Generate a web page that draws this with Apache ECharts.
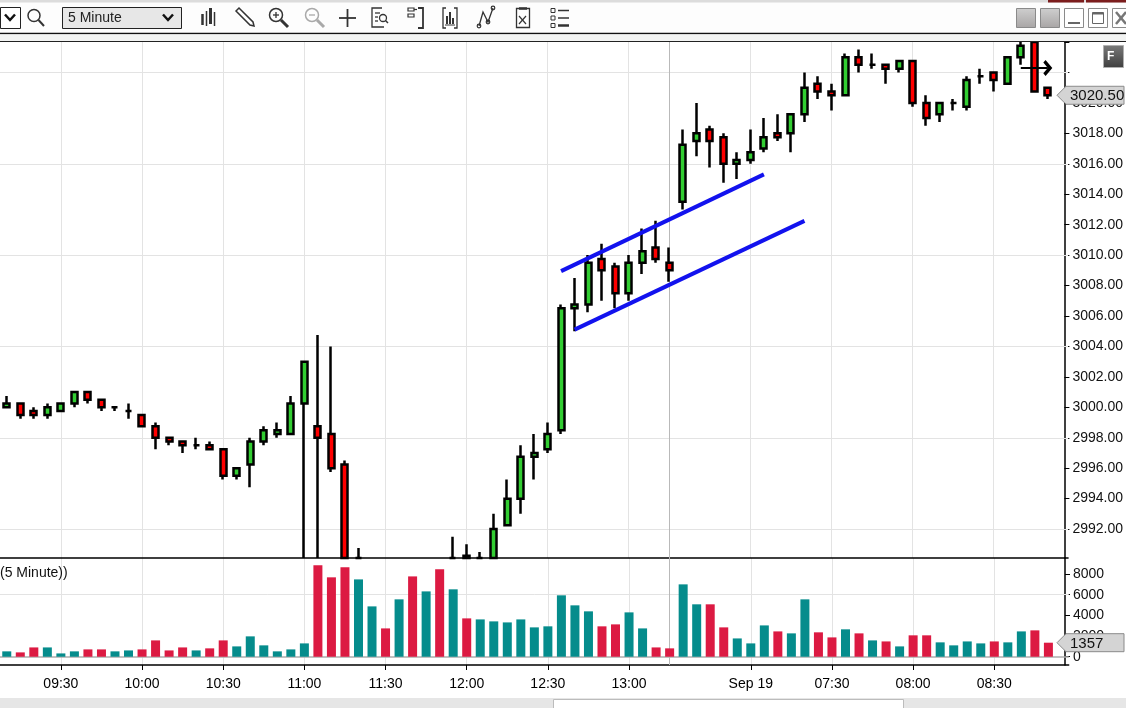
<!DOCTYPE html>
<html>
<head>
<meta charset="utf-8">
<title>5 Minute</title>
<script src="https://cdn.jsdelivr.net/npm/echarts@6/dist/echarts.min.js"></script>
<style>
html, body { margin: 0; padding: 0; background: #fff; }
#main { width: 1126px; height: 708px; }
</style>
</head>
<body>
<div id="main"></div>
<script type="text/javascript">
// 5 minute bars, Sep 18 (09:10 - 13:15) then Sep 19 (06:35 - ), last slot empty
var times = [
  '09:10','09:15','09:20','09:25','09:30','09:35','09:40','09:45','09:50','09:55',
  '10:00','10:05','10:10','10:15','10:20','10:25','10:30','10:35','10:40','10:45','10:50','10:55',
  '11:00','11:05','11:10','11:15','11:20','11:25','11:30','11:35','11:40','11:45','11:50','11:55',
  '12:00','12:05','12:10','12:15','12:20','12:25','12:30','12:35','12:40','12:45','12:50','12:55',
  '13:00','13:05','13:10','13:15',
  '06:35','06:40','06:45','06:50','06:55',
  '07:00','07:05','07:10','07:15','07:20','07:25','07:30','07:35','07:40','07:45','07:50','07:55',
  '08:00','08:05','08:10','08:15','08:20','08:25','08:30','08:35','08:40','08:45','08:50','08:55'
];
var dateLabels = { '07:00': 'Sep 19' };
var sessionBreak = 49;

// open, high, low, close
var ohlc = [
  [3000.00, 3000.75, 3000.00, 3000.25],
  [3000.25, 3000.25, 2999.25, 2999.50],
  [2999.75, 3000.00, 2999.25, 2999.50],
  [2999.50, 3000.25, 2999.25, 3000.00],
  [2999.75, 3000.25, 2999.75, 3000.25],
  [3000.25, 3001.00, 3000.00, 3001.00],
  [3001.00, 3001.00, 3000.25, 3000.50],
  [3000.50, 3000.50, 2999.75, 3000.00],
  [3000.00, 3000.00, 2999.75, 3000.00],
  [2999.75, 3000.25, 2999.25, 2999.75],
  [2999.50, 2999.50, 2998.75, 2998.75],
  [2998.75, 2999.00, 2997.25, 2998.00],
  [2998.00, 2998.00, 2997.50, 2997.75],
  [2997.75, 2997.75, 2997.00, 2997.50],
  [2997.50, 2998.00, 2997.25, 2997.50],
  [2997.50, 2997.75, 2997.25, 2997.25],
  [2997.25, 2997.25, 2995.25, 2995.50],
  [2995.50, 2996.00, 2995.25, 2996.00],
  [2996.25, 2998.00, 2994.75, 2997.75],
  [2997.75, 2998.75, 2997.50, 2998.50],
  [2998.25, 2999.00, 2998.00, 2998.50],
  [2998.25, 3000.75, 2998.25, 3000.25],
  [3000.25, 3003.00, 2981.00, 3003.00],
  [2998.75, 3004.75, 2982.50, 2998.00],
  [2998.25, 3004.00, 2995.75, 2996.00],
  [2996.25, 2996.50, 2988.00, 2988.50],
  [2988.50, 2990.75, 2987.75, 2989.75],
  [2988.25, 2989.75, 2987.00, 2989.50],
  [2989.50, 2989.75, 2988.00, 2988.50],
  [2988.50, 2989.50, 2986.50, 2989.25],
  [2989.25, 2989.50, 2986.25, 2987.00],
  [2987.00, 2989.25, 2985.75, 2988.75],
  [2988.75, 2989.75, 2986.50, 2987.25],
  [2987.25, 2991.50, 2986.75, 2989.00],
  [2990.25, 2991.00, 2989.00, 2989.50],
  [2989.50, 2990.50, 2989.25, 2990.00],
  [2989.75, 2993.00, 2989.50, 2992.00],
  [2992.25, 2995.25, 2992.25, 2994.00],
  [2994.00, 2997.50, 2993.00, 2996.75],
  [2996.75, 2998.25, 2995.25, 2997.00],
  [2997.25, 2999.00, 2997.00, 2998.25],
  [2998.50, 3006.75, 2998.25, 3006.50],
  [3006.50, 3008.50, 3005.00, 3006.75],
  [3006.75, 3010.00, 3006.25, 3009.50],
  [3009.75, 3010.75, 3007.00, 3009.00],
  [3009.25, 3009.50, 3006.50, 3007.50],
  [3007.50, 3010.00, 3007.00, 3009.50],
  [3009.50, 3011.75, 3008.75, 3010.25],
  [3010.50, 3012.25, 3009.50, 3009.75],
  [3009.50, 3010.50, 3008.25, 3009.00],
  [3013.50, 3018.25, 3013.00, 3017.25],
  [3017.50, 3020.00, 3016.50, 3018.00],
  [3018.25, 3018.50, 3015.75, 3017.50],
  [3017.75, 3018.00, 3014.75, 3016.00],
  [3016.00, 3016.75, 3015.00, 3016.25],
  [3016.25, 3018.25, 3016.00, 3016.75],
  [3017.00, 3019.00, 3016.75, 3017.75],
  [3018.00, 3019.25, 3017.50, 3017.75],
  [3018.00, 3019.25, 3016.75, 3019.25],
  [3019.25, 3022.00, 3018.75, 3021.00],
  [3021.25, 3021.75, 3020.25, 3020.75],
  [3020.75, 3021.25, 3019.50, 3020.50],
  [3020.50, 3023.25, 3020.50, 3023.00],
  [3023.00, 3023.50, 3022.00, 3022.50],
  [3022.50, 3023.25, 3022.25, 3022.50],
  [3022.50, 3022.50, 3021.25, 3022.25],
  [3022.25, 3022.75, 3022.00, 3022.75],
  [3022.75, 3022.75, 3019.75, 3020.00],
  [3020.00, 3020.50, 3018.50, 3019.00],
  [3019.25, 3020.00, 3018.75, 3020.00],
  [3020.00, 3020.25, 3019.50, 3020.00],
  [3019.75, 3021.75, 3019.50, 3021.50],
  [3021.75, 3022.25, 3021.25, 3021.75],
  [3022.00, 3022.00, 3020.75, 3021.50],
  [3021.25, 3023.00, 3021.25, 3023.00],
  [3023.00, 3024.25, 3022.50, 3023.75],
  [3024.00, 3024.50, 3020.75, 3020.75],
  [3021.00, 3021.00, 3020.25, 3020.50]
];

var volume = [
  520, 420, 900, 900, 320, 520, 710, 710, 520, 610,
  710, 1580, 610, 900, 610, 810, 1580, 1000, 1970, 1100,
  520, 710, 1290, 8840, 7680, 8650, 7480, 4870, 2740, 5550,
  7770, 6320, 8450, 6520, 3710, 3610, 3420, 3320, 3610, 2840,
  2940, 5940, 4970, 4390, 2940, 3130, 4290, 2740, 900, 810,
  7000, 5070, 5070, 2840, 1770, 1290, 3030, 2450, 2260, 5550,
  2360, 1870, 2650, 2260, 1580, 1480, 1000, 2070, 2070, 1390,
  1100, 1480, 1290, 1480, 1390, 2450, 2550, 1357
];

// drawn channel (bar index, price)
var channels = [
  [[41, 3008.95], [56, 3015.3]],
  [[42, 3005.1], [59, 3012.25]]
];
var arrowMark = [[75, 3022.3], [77, 3022.3]];

var priceMin = 2990.1, priceMax = 3024.0;
var priceTicks = [2992, 2994, 2996, 2998, 3000, 3002, 3004, 3006, 3008, 3010, 3012, 3014, 3016, 3018, 3020, 3022, 3024];
var priceLabels = [2992, 2994, 2996, 2998, 3000, 3002, 3004, 3006, 3008, 3010, 3012, 3014, 3016, 3018, 3020];
var priceGrid = [2992, 2998, 3004, 3010, 3016, 3022];
var volTicks = [0, 2000, 4000, 6000, 8000];

var upColor = '#32cd32', downColor = '#ff0000';
var upVol = '#058c8c', downVol = '#dc1a42';
var font = "'Liberation Sans', Arial, sans-serif";

function isLabelTime(i, v) {
  var m = v.slice(3);
  return m === '00' || m === '30';
}
// the candlestick series does not cut boxes that cross the pane edge, so do it here;
// bars lying wholly below the pane are left out
function clipPrice(v) {
  return Math.max(priceMin, Math.min(priceMax, v));
}
function candleItem(b) {
  if (b[1] < priceMin || b[2] > priceMax) return '-';
  return [clipPrice(b[0]), clipPrice(b[3]), clipPrice(b[2]), clipPrice(b[1])];
}

var myChart = echarts.init(document.getElementById('main'));

var axisX = function (grid, withLabels) {
  return {
    type: 'category',
    gridIndex: grid,
    data: times,
    boundaryGap: true,
    axisLine: { show: true, onZero: false, lineStyle: { color: '#000', width: 1.5 } },
    axisTick: { show: withLabels, alignWithLabel: true, interval: isLabelTime, length: 5, lineStyle: { color: '#000' } },
    axisLabel: {
      show: withLabels, interval: isLabelTime, margin: 12,
      color: '#000', fontSize: 14, fontFamily: font,
      formatter: function (v) { return dateLabels[v] || v; }
    },
    splitLine: { show: true, alignWithLabel: true, interval: isLabelTime, lineStyle: { color: '#e3e3e3', width: 1 } }
  };
};

myChart.setOption({
  animation: false,
  backgroundColor: '#fff',
  grid: [
    { left: -2.5, right: 57.3, top: 42, height: 516 },
    { left: -2.5, right: 57.3, top: 558, height: 107 }
  ],
  xAxis: [axisX(0, false), axisX(1, true)],
  yAxis: [{
    type: 'value', gridIndex: 0, position: 'right', offset: -3.7,
    min: priceMin, max: priceMax, scale: true,
    axisLine: { show: true, lineStyle: { color: '#000', width: 1.5 } },
    axisTick: { show: true, length: 5, customValues: priceTicks, lineStyle: { color: '#000' } },
    axisLabel: {
      customValues: priceLabels, margin: 8, color: '#111', fontSize: 14, fontFamily: font,
      formatter: function (v) { return v.toFixed(2); }
    },
    splitLine: { show: false }
  }, {
    type: 'value', gridIndex: 1, position: 'right', offset: -3.7,
    min: -800, max: 9550,
    axisLine: { show: true, lineStyle: { color: '#000', width: 1.5 } },
    axisTick: { show: true, length: 5, customValues: volTicks, lineStyle: { color: '#000' } },
    axisLabel: {
      customValues: volTicks, margin: 8, color: '#111', fontSize: 14, fontFamily: font,
      formatter: function (v) { return String(v); }
    },
    splitLine: { show: false }
  }],
  series: [{
    // price grid lines, kept under the candles
    type: 'line', xAxisIndex: 0, yAxisIndex: 0, data: [], silent: true,
    markLine: {
      silent: true, z: 1, symbol: 'none', label: { show: false },
      lineStyle: { color: '#e3e3e3', width: 1, type: 'solid' },
      data: priceGrid.map(function (v) { return { yAxis: v }; }).concat([
        { xAxis: sessionBreak, lineStyle: { color: '#b9b9b9', width: 1, type: 'solid' } }
      ])
    }
  }, {
    name: 'Price',
    type: 'candlestick',
    xAxisIndex: 0, yAxisIndex: 0,
    barWidth: 6.5,
    clip: true,
    data: ohlc.map(candleItem),
    itemStyle: {
      color: upColor, color0: downColor,
      borderColor: '#000', borderColor0: '#000', borderColorDoji: '#000',
      borderWidth: 2.5
    },
    markLine: {
      silent: true, symbol: 'none', label: { show: false },
      lineStyle: { color: '#1212ee', width: 4, type: 'solid' },
      data: channels.map(function (c) {
        return [{ coord: c[0] }, { coord: c[1] }];
      }).concat([[
        { coord: arrowMark[0], symbol: 'none' },
        { coord: arrowMark[1], symbol: 'path://M0,9 L9,0 L18,9 L15,12 L9,6 L3,12 Z', symbolSize: [16, 9],
          lineStyle: { color: '#000', width: 2 } }
      ]])
    }
  }, {
    name: 'Volume',
    type: 'bar',
    xAxisIndex: 1, yAxisIndex: 1,
    barWidth: 9,
    data: volume,
    itemStyle: {
      color: function (p) {
        var b = ohlc[p.dataIndex];
        return b[3] >= b[0] ? upVol : downVol;
      }
    },
    markLine: {
      silent: true, z: 1, symbol: 'none', label: { show: false },
      data: [
        { yAxis: 0, lineStyle: { color: '#acacac', width: 1.5, type: 'solid' } },
        { yAxis: 6000, lineStyle: { color: '#e3e3e3', width: 1, type: 'solid' } },
        { xAxis: sessionBreak, lineStyle: { color: '#b9b9b9', width: 1, type: 'solid' } }
      ]
    }
  }]
});

// window chrome, toolbar and price tags
function ln(x1, y1, x2, y2, c, w) {
  return { type: 'line', shape: { x1: x1, y1: y1, x2: x2, y2: y2 }, style: { stroke: c, lineWidth: w || 1 }, silent: true, z: 100 };
}
function box(x, y, w, h, fill, stroke, lw) {
  return { type: 'rect', shape: { x: x, y: y, width: w, height: h }, style: { fill: fill, stroke: stroke || null, lineWidth: lw || 1 }, silent: true, z: 100 };
}
function ring(cx, cy, r, c, w) {
  return { type: 'circle', shape: { cx: cx, cy: cy, r: r }, style: { fill: null, stroke: c, lineWidth: w || 1.5 }, silent: true, z: 100 };
}
function poly(pts, c, w) {
  return { type: 'polyline', shape: { points: pts }, style: { stroke: c, lineWidth: w || 1.5, fill: null }, silent: true, z: 100 };
}
function txt(x, y, s, size, color, extra) {
  var st = { text: s, x: x, y: y, fill: color || '#000', font: (size || 14) + 'px ' + font, textVerticalAlign: 'middle' };
  if (extra) { for (var k in extra) st[k] = extra[k]; }
  return { type: 'text', style: st, silent: true, z: 110 };
}
function tag(y, label) {
  return [
    { type: 'polygon', shape: { points: [[1057, y], [1066, y - 9], [1124, y - 9], [1124, y + 9], [1066, y + 9]] },
      style: { fill: '#d4d4d4', stroke: '#8a8a8a', lineWidth: 1 }, silent: true, z: 105 },
    txt(1070, y + 1, label, 15, '#111')
  ];
}

var grey = { type: 'linear', x: 0, y: 0, x2: 0, y2: 1, colorStops: [{ offset: 0, color: '#cfcfcf' }, { offset: 1, color: '#a8a5a5' }] };
var dark = { type: 'linear', x: 0, y: 0, x2: 0, y2: 1, colorStops: [{ offset: 0, color: '#7a7a7a' }, { offset: 1, color: '#3e3e3e' }] };

var ic = '#333';
var g = [
  box(0, 0, 1126, 34, '#fdfdfd'),
  box(0, 0, 1126, 2.5, '#dcdcdc'),
  box(1048, 0, 36, 2.5, '#7b1c1c'),
  box(1086, 0, 40, 2.5, '#7b1c1c'),
  ln(0, 33.5, 1126, 33.5, '#111', 1.5),
  box(0, 34.5, 1126, 6.5, '#f2f3f2'),
  ln(0, 41.5, 1126, 41.5, '#222', 1.2),

  // interval selector boxes
  box(0.5, 7.5, 20, 21, '#fff', '#222', 1),
  poly([[5, 14.5], [10, 20], [15, 14.5]], '#111', 2.5),
  ring(34, 15.5, 6, ic, 1.5), ln(38.5, 20, 44, 26, ic, 2),
  box(62.5, 7.5, 119, 21, '#e7e7e7', '#222', 1),
  txt(68, 18.5, '5 Minute', 14, '#222'),
  poly([[163, 14.5], [168, 20], [173, 14.5]], '#111', 2.5),

  // tool icons
  ln(202.5, 14, 202.5, 25, ic, 2.5), ln(206.5, 11, 206.5, 26, ic, 1.5),
  ln(210.5, 8, 210.5, 24, ic, 3), ln(214.5, 12, 214.5, 26, ic, 1.5),
  { type: 'polygon', shape: { points: [[236, 11], [239, 8], [253, 22], [254, 26], [250, 25]] }, style: { fill: '#fff', stroke: ic, lineWidth: 1.5 }, silent: true, z: 100 },
  ring(276, 15, 6.5, ic, 1.5), ln(273, 15, 279, 15, ic, 1.3), ln(276, 12, 276, 18, ic, 1.3), ln(281, 20, 288, 27, ic, 3),
  ring(312, 15, 6.5, '#a9a9a9', 1.5), ln(309, 15, 315, 15, '#a9a9a9', 1.3), ln(317, 20, 324, 27, '#a9a9a9', 3),
  ln(347.5, 9, 347.5, 27, ic, 1.8), ln(339, 18, 356, 18, ic, 1.8),
  poly([[382, 8], [372, 8], [372, 27], [384, 27]], ic, 1.3), ln(375, 13, 380, 13, ic, 1.3), ln(375, 17, 378, 17, ic, 1.3), ln(375, 21, 378, 21, ic, 1.3),
  ring(383, 18, 3.5, ic, 1.3), ln(385.5, 20.5, 388, 23, ic, 1.5),
  box(408, 8, 6, 3, null, ic, 1.2), box(408, 14, 6, 3, null, ic, 1.2), ln(414, 9.5, 417, 9.5, ic, 1.2),
  poly([[418, 8], [423, 8], [423, 28], [418, 28]], ic, 1.8),
  poly([[446, 8], [443, 8], [443, 28], [446, 28]], ic, 1.3), poly([[454, 8], [457, 8], [457, 28], [454, 28]], ic, 1.3),
  ln(447, 16, 447, 24, ic, 2), ln(450, 12, 450, 24, ic, 2), ln(453, 18, 453, 24, ic, 2), ln(445, 25, 455, 25, ic, 1),
  poly([[479, 26], [483, 12], [488, 22], [493, 8]], ic, 1.3), ring(479, 26, 1.8, ic, 1.2), ring(488, 22, 1.8, ic, 1.2), ring(493, 8, 1.8, ic, 1.2),
  box(516.5, 8.5, 13, 19, null, ic, 1.3), ln(519, 8.5, 527, 8.5, ic, 2.5), ln(519, 16, 526, 24, ic, 1.2), ln(526, 16, 519, 24, ic, 1.2),
  box(551, 8.5, 4, 4, null, ic, 1), box(551, 16, 4, 4, null, ic, 1), box(551, 23.5, 4, 4, null, ic, 1),
  ln(558, 10.5, 569, 10.5, ic, 1.5), ln(558, 18, 569, 18, ic, 1.5), ln(558, 25.5, 569, 25.5, ic, 2.5),

  // window buttons
  box(1016.5, 8.5, 19, 19, grey, '#8a8a8a', 1),
  box(1040.5, 8.5, 19, 19, grey, '#8a8a8a', 1),
  box(1064.5, 8.5, 19, 19, '#fff', '#8a8a8a', 1), ln(1068, 23, 1080, 23, '#666', 2),
  box(1088.5, 8.5, 19, 19, '#fff', '#8a8a8a', 1), box(1092.5, 12.5, 11, 11, null, '#666', 1), ln(1092.5, 13.5, 1103.5, 13.5, '#666', 2),
  box(1112.5, 8.5, 19, 19, '#fff', '#8a8a8a', 1), ln(1116, 12, 1126, 24, '#777', 2.5), ln(1126, 12, 1116, 24, '#777', 2.5),

  // F button and pane title
  box(1103.5, 45.5, 20, 22, dark, '#b0b0b0', 1),
  txt(1107, 57, 'F', 17, '#fff', { fontWeight: 'bold' }),
  txt(0, 573, '(5 Minute))', 14, '#111'),

  // scroll bar
  box(0, 698, 1126, 10, '#e6e6e6'),
  box(553.5, 699.5, 350, 9, '#fff', '#bcbcbc', 1)
];

var last = ohlc.length - 1;
var yPrice = myChart.convertToPixel({ yAxisIndex: 0 }, ohlc[last][3]);
var yVol = myChart.convertToPixel({ yAxisIndex: 1 }, 0);
var yVolLast = myChart.convertToPixel({ yAxisIndex: 1 }, volume[last]);
g = g.concat(tag(yPrice, ohlc[last][3].toFixed(2)));
g = g.concat(tag(Math.min(yVolLast, yVol - 10), String(volume[last])));

myChart.setOption({ graphic: g });
</script>
</body>
</html>
